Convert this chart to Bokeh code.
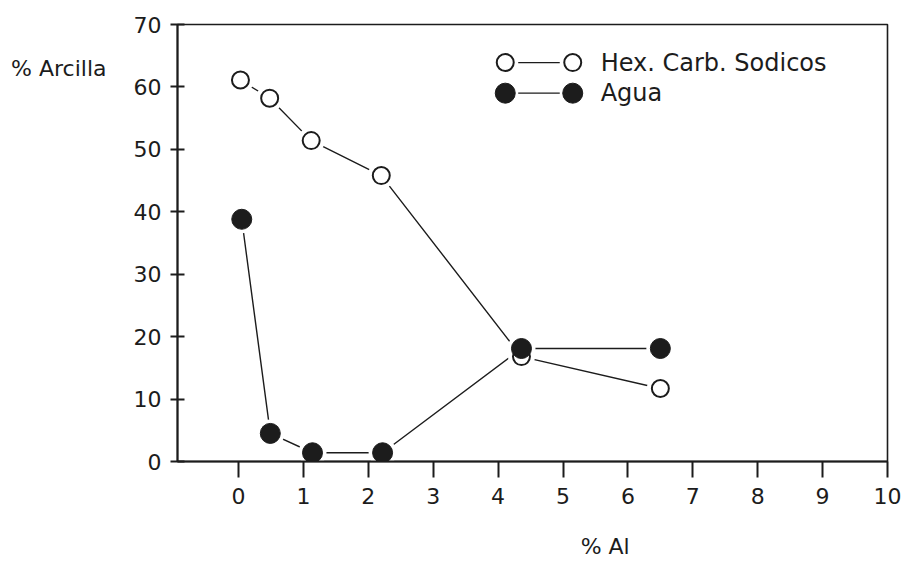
from bokeh.plotting import figure
from bokeh.models import Range1d, FixedTicker, ColumnDataSource, LinearAxis, Label
from bokeh.embed import file_html
from bokeh.resources import INLINE

# ---- data ----
hex_x = [0.03, 0.48, 1.12, 2.20, 4.36, 6.50]
hex_y = [61.1, 58.2, 51.4, 45.8, 16.8, 11.7]
agua_x = [0.05, 0.49, 1.14, 2.22, 4.36, 6.50]
agua_y = [38.8, 4.5, 1.4, 1.4, 18.1, 18.1]
x_ticks = [0, 1, 2, 3, 4, 5, 6, 7, 8, 9, 10]
y_ticks = [0, 10, 20, 30, 40, 50, 60, 70]
series_names = ["Hex. Carb. Sodicos", "Agua"]
x_title = "% Al"
y_title = "% Arcilla"

FONT = "DejaVu Sans"
INK = "#1c1c1c"
FS = "22px"

p = figure(width=905, height=561, output_backend="svg", toolbar_location=None,
           x_range=Range1d(-0.94, 10), y_range=Range1d(0, 70),
           min_border_left=177, min_border_right=18, min_border_top=24,
           min_border_bottom=100)
p.background_fill_color = "white"
p.border_fill_color = "white"
p.outline_line_color = INK
p.outline_line_width = 1.6
p.grid.visible = False

for ax in (p.xaxis, p.yaxis):
    ax.axis_line_color = INK
    ax.axis_line_width = 2
    ax.major_tick_line_color = INK
    ax.major_tick_line_width = 2
    ax.minor_tick_line_color = None
    ax.major_label_text_font = FONT
    ax.major_label_text_font_size = FS
    ax.major_label_text_color = INK

p.xaxis.ticker = FixedTicker(ticks=x_ticks)
p.xaxis.major_tick_in = 0
p.xaxis.major_tick_out = 16
p.xaxis.major_label_standoff = 10

p.yaxis.ticker = FixedTicker(ticks=y_ticks)
p.yaxis.major_tick_in = 7
p.yaxis.major_tick_out = 7
p.yaxis.major_label_standoff = 9

# ---- axis titles, drawn as single-label helper axes so they sit where the reference has them ----
def title_axis(tick, text, standoff):
    return LinearAxis(ticker=FixedTicker(ticks=[tick]), major_label_overrides={tick: text},
                      axis_line_color=None, major_tick_line_color=None,
                      minor_tick_line_color=None, major_tick_in=0, major_tick_out=0,
                      major_label_standoff=standoff, major_label_text_font=FONT,
                      major_label_text_font_size=FS, major_label_text_color=INK)

p.add_layout(title_axis(63, y_title, 24), "left")
p.add_layout(title_axis(5.65, x_title, 27), "below")

hs = ColumnDataSource(dict(x=hex_x, y=hex_y))
ags = ColumnDataSource(dict(x=agua_x, y=agua_y))

# lines
p.line("x", "y", source=hs, line_color=INK, line_width=1.4)
p.line("x", "y", source=ags, line_color=INK, line_width=1.4)
# white halos to leave gaps between line and marker
p.scatter("x", "y", source=hs, size=27, fill_color="white", line_color=None)
p.scatter("x", "y", source=ags, size=28, fill_color="white", line_color=None)
# markers
p.scatter("x", "y", source=hs, size=17, fill_color="white", line_color=INK, line_width=2)
p.scatter("x", "y", source=ags, size=20, fill_color=INK, line_color=INK, line_width=1)

# ---- legend (circle - line - circle) ----
leg_x0, leg_x1, leg_tx = 4.11, 5.15, 5.58
leg_rows = [63.9, 59.0]
for i, (ly, name) in enumerate(zip(leg_rows, series_names)):
    p.line([leg_x0 + 0.2, leg_x1 - 0.2], [ly, ly], line_color=INK, line_width=1.4)
    if i == 0:
        p.scatter([leg_x0, leg_x1], [ly, ly], size=17, fill_color="white",
                  line_color=INK, line_width=2)
    else:
        p.scatter([leg_x0, leg_x1], [ly, ly], size=20, fill_color=INK, line_color=INK)
    p.add_layout(Label(x=leg_tx, y=ly, text=name, text_font=FONT,
                       text_font_size="24px", text_color=INK, text_baseline="middle"))

open("out.html", "w").write(file_html(p, INLINE))
